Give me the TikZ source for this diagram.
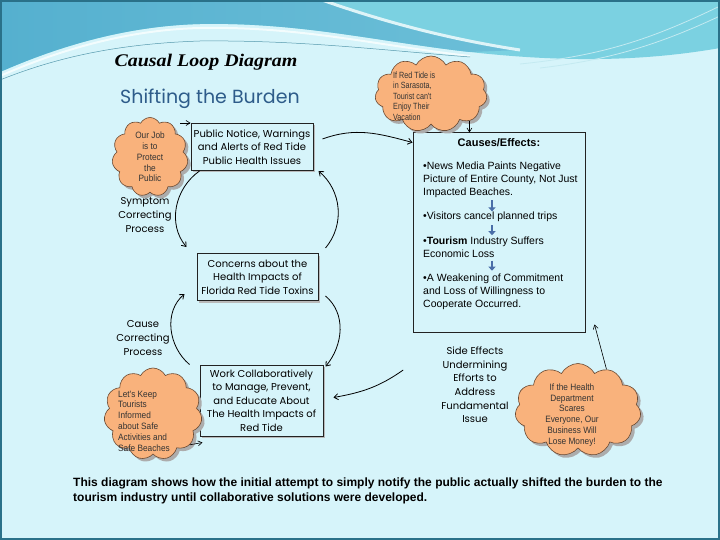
\documentclass[tikz,border=0pt]{standalone}
\usepackage{fontspec}
\setmainfont{Liberation Sans}
\newfontfamily\comicfont{Poppins}
\newfontfamily\titlefont[FakeStretch=1.12]{Liberation Serif}
\newfontfamily\cloudfont[FakeStretch=0.9]{Liberation Sans}
\newfontfamily\cloudnarrow[FakeStretch=0.8]{Liberation Sans}
\usepackage{xcolor}
\usetikzlibrary{shapes.symbols, arrows.meta, shadows, calc}

\definecolor{skybg}{HTML}{D6F4FA}
\definecolor{bandteal}{HTML}{7BD1E1}
\definecolor{bandblue}{HTML}{6CBFD8}
\definecolor{banddark}{HTML}{55B0CF}
\definecolor{framecol}{HTML}{2A7189}
\definecolor{boxline}{HTML}{222222}
\definecolor{cloudfill}{HTML}{F9B27C}
\definecolor{cloudline}{HTML}{6B4A33}
\definecolor{headblue}{HTML}{2E5C8A}
\definecolor{flowblue}{HTML}{4A6EA8}

\tikzset{
  % Loop diagram styles
  loopbox/.style={rectangle, draw=boxline, line width=1pt, fill=skybg, inner sep=0pt, align=center,
    font=\comicfont\fontsize{10}{13.5}\selectfont,
    drop shadow={shadow xshift=2pt, shadow yshift=-2pt, fill=gray!55, opacity=1}},
  looplabel/.style={inner sep=0pt, align=center, font=\comicfont\fontsize{10}{13.6}\selectfont},
  cebox/.style={rectangle, draw=boxline, line width=1pt, fill=skybg, minimum width=172pt, minimum height=199pt},
  ceitem/.style={inner sep=0pt, anchor=north west, align=left, font=\fontsize{10.5}{12.6}\selectfont},
  % Thought clouds
  thought/.style={cloud, cloud puffs=11, cloud puff arc=125, cloud ignores aspect, draw=cloudline,
    fill=cloudfill, line width=0.6pt, inner sep=0pt,
    drop shadow={shadow xshift=3pt, shadow yshift=-3pt, fill=gray!65, opacity=1}},
  thoughttext/.style={inner sep=0pt, text=black!80, font=\cloudfont\fontsize{9.2}{10.8}\selectfont},
  % Connectors
  arr/.style={-{Straight Barb[length=4pt,width=6pt]}, line width=0.8pt},
  thinarr/.style={-{Straight Barb[length=4pt,width=5pt]}, line width=0.6pt},
  flow/.style={-{Triangle[length=4pt,width=7pt]}, line width=2.6pt, flowblue},
}

\begin{document}
\begin{tikzpicture}[x=1pt, y=-1pt]
    \useasboundingbox (0,0) rectangle (720,540);

    % Background
    \fill[skybg] (0,0) rectangle (720,540);
    \fill[bandteal] (0,0) -- (720,0) -- (720,48) .. controls (640,62) and (560,62) .. (470,52)
      .. controls (380,42) and (300,22) .. (200,24) .. controls (120,26) and (50,50) .. (0,72) -- cycle;
    \shade[left color=banddark, right color=bandblue] (0,0) -- (322,0) .. controls (390,24) and (455,40) .. (520,50)
      -- (470,52) .. controls (380,42) and (300,22) .. (200,24) .. controls (120,26) and (50,50) .. (0,72) -- cycle;
    \draw[white!75!bandteal, line width=3pt] (322,0) .. controls (390,24) and (455,40) .. (520,50);
    \draw[white!55!bandteal, line width=0.8pt] (720,6) .. controls (650,40) and (600,56) .. (520,64);
    \draw[white!55!bandteal, line width=0.8pt] (720,16) .. controls (660,44) and (610,60) .. (540,68);
    \draw[white!70!skybg, line width=2pt] (0,76) .. controls (50,54) and (120,30) .. (200,28) .. controls (300,26) and (380,46) .. (470,56);
    \draw[bandblue!80!black, line width=0.5pt] (0,80) .. controls (50,60) and (110,44) .. (200,41) .. controls (300,40) and (380,50) .. (470,57);
    \draw[framecol, line width=2pt] (1,1) rectangle (719,539);

    % Titles
    \node[inner sep=0pt, font=\titlefont\bfseries\itshape\fontsize{17.8}{20}\selectfont] (title) at (206,62) {Causal Loop Diagram};
    \node[inner sep=0pt, text=headblue, font=\comicfont\fontsize{19}{22}\selectfont] (heading) at (210,99) {Shifting the Burden};

    % Loop boxes
    \node[loopbox, minimum width=122pt, minimum height=47pt] (notice) at (252,147)
      {Public Notice, Warnings\\and Alerts of Red Tide\\Public Health Issues};
    \node[loopbox, minimum width=121pt, minimum height=47pt] (concerns) at (257.5,277)
      {Concerns about the\\Health Impacts of\\Florida Red Tide Toxins};
    \node[loopbox, minimum width=123pt, minimum height=71pt] (work) at (261.5,400.5)
      {Work Collaboratively\\to Manage, Prevent,\\and Educate About\\The Health Impacts of\\Red Tide};

    % Loop labels
    \node[looplabel] (symptom) at (145,215) {Symptom\\Correcting\\Process};
    \node[looplabel] (cause) at (143,338) {Cause\\Correcting\\Process};
    \node[looplabel] (sidefx) at (475,385) {Side Effects\\Undermining\\Efforts to\\Address\\Fundamental\\Issue};

    % Causes / effects
    \node[cebox] (ce) at (499,232.5) {};
    \node[inner sep=0pt, font=\bfseries\fontsize{11}{13}\selectfont] (cehead) at (499,143) {Causes/Effects:};
    \node[ceitem] (ce1) at (423,162) {\textbullet News Media Paints Negative\\Picture of Entire County, Not Just\\Impacted Beaches.};
    \node[ceitem] (ce2) at (423,212) {\textbullet Visitors cancel planned trips};
    \node[ceitem] (ce3) at (423,237) {\textbullet\textbf{Tourism} Industry Suffers\\Economic Loss};
    \node[ceitem] (ce4) at (423,274) {\textbullet A Weakening of Commitment\\and Loss of Willingness to\\Cooperate Occurred.};
    \coordinate (flowx) at (492,0);
    \draw[flow] (ce1.south -| flowx) ++(0,3) -- ++(0,11);
    \draw[flow] (ce2.south -| flowx) ++(0,3) -- ++(0,10);
    \draw[flow] (ce3.south -| flowx) ++(0,3) -- ++(0,10);

    % Thought clouds
    \node[thought, minimum width=76pt, minimum height=79pt] (cloudjob) at (150,157) {};
    \node[thoughttext, align=center] (cloudjobtxt) at (150,157) {Our Job\\is to\\Protect\\the\\Public};
    \node[thought, minimum width=112pt, minimum height=76pt] (cloudtour) at (431,94) {};
    \node[thoughttext, font=\cloudnarrow\fontsize{9}{10.5}\selectfont, align=left, anchor=west] (cloudtourtxt) at (393,96)
      {If Red Tide is\\in Sarasota,\\Tourist can't\\Enjoy Their\\Vacation};
    \node[thought, minimum width=98pt, minimum height=92pt] (cloudsafe) at (153,414) {};
    \node[thoughttext, align=left, anchor=west] (cloudsafetxt) at (118,421) {Let's Keep\\Tourists\\Informed\\about Safe\\Activities and\\Safe Beaches};
    \node[thought, minimum width=126pt, minimum height=93pt] (cloudbiz) at (578,410) {};
    \node[thoughttext, align=center] (cloudbiztxt) at (572,415) {If the Health\\Department\\Scares\\Everyone, Our\\Business Will\\Lose Money!};

    % Arrows
    \draw[arr] ([xshift=9pt]notice.south west) to[out=215, in=130] ([xshift=-10pt, yshift=6pt]concerns.north west);
    \draw[arr] ([xshift=-10pt]work.north west) to[out=140, in=220] ([xshift=-12pt, yshift=7pt]concerns.south west);
    \draw[arr] ([xshift=7pt, yshift=5pt]concerns.north east) to[out=50, in=-40] ([xshift=5pt]notice.south east);
    \draw[arr] ([xshift=9pt, yshift=8pt]notice.east) to[out=20, in=165] ([yshift=-10pt]ce.north west);
    \draw[arr] ([xshift=7pt, yshift=5pt]concerns.south east) to[out=-40, in=50] ([xshift=2pt, yshift=-2pt]work.north east);
    \draw[arr] ([xshift=-38pt, yshift=15pt]sidefx.west) to[out=215, in=10] ([xshift=10pt, yshift=3pt]work.east);
    \draw[thinarr] ([xshift=-7pt]notice.north west -| cloudjob.east) -- (notice.north west);
    \draw[thinarr] (cloudtour.-35) -- (cloudtour.-35 |- ce.north);
    \draw[thinarr] (cloudsafe.-40) -- ([xshift=3pt, yshift=-6pt]work.south west);
    \draw[thinarr] (cloudbiz.55) -- ([xshift=9pt, yshift=8pt]ce.south east);

    % Caption
    \node[inner sep=0pt, anchor=north west, align=left, font=\bfseries\fontsize{12}{15}\selectfont] (caption) at (73,478)
      {This diagram shows how the initial attempt to simply notify the public actually shifted the burden to the\\tourism industry until collaborative solutions were developed.};
\end{tikzpicture}
\end{document}
